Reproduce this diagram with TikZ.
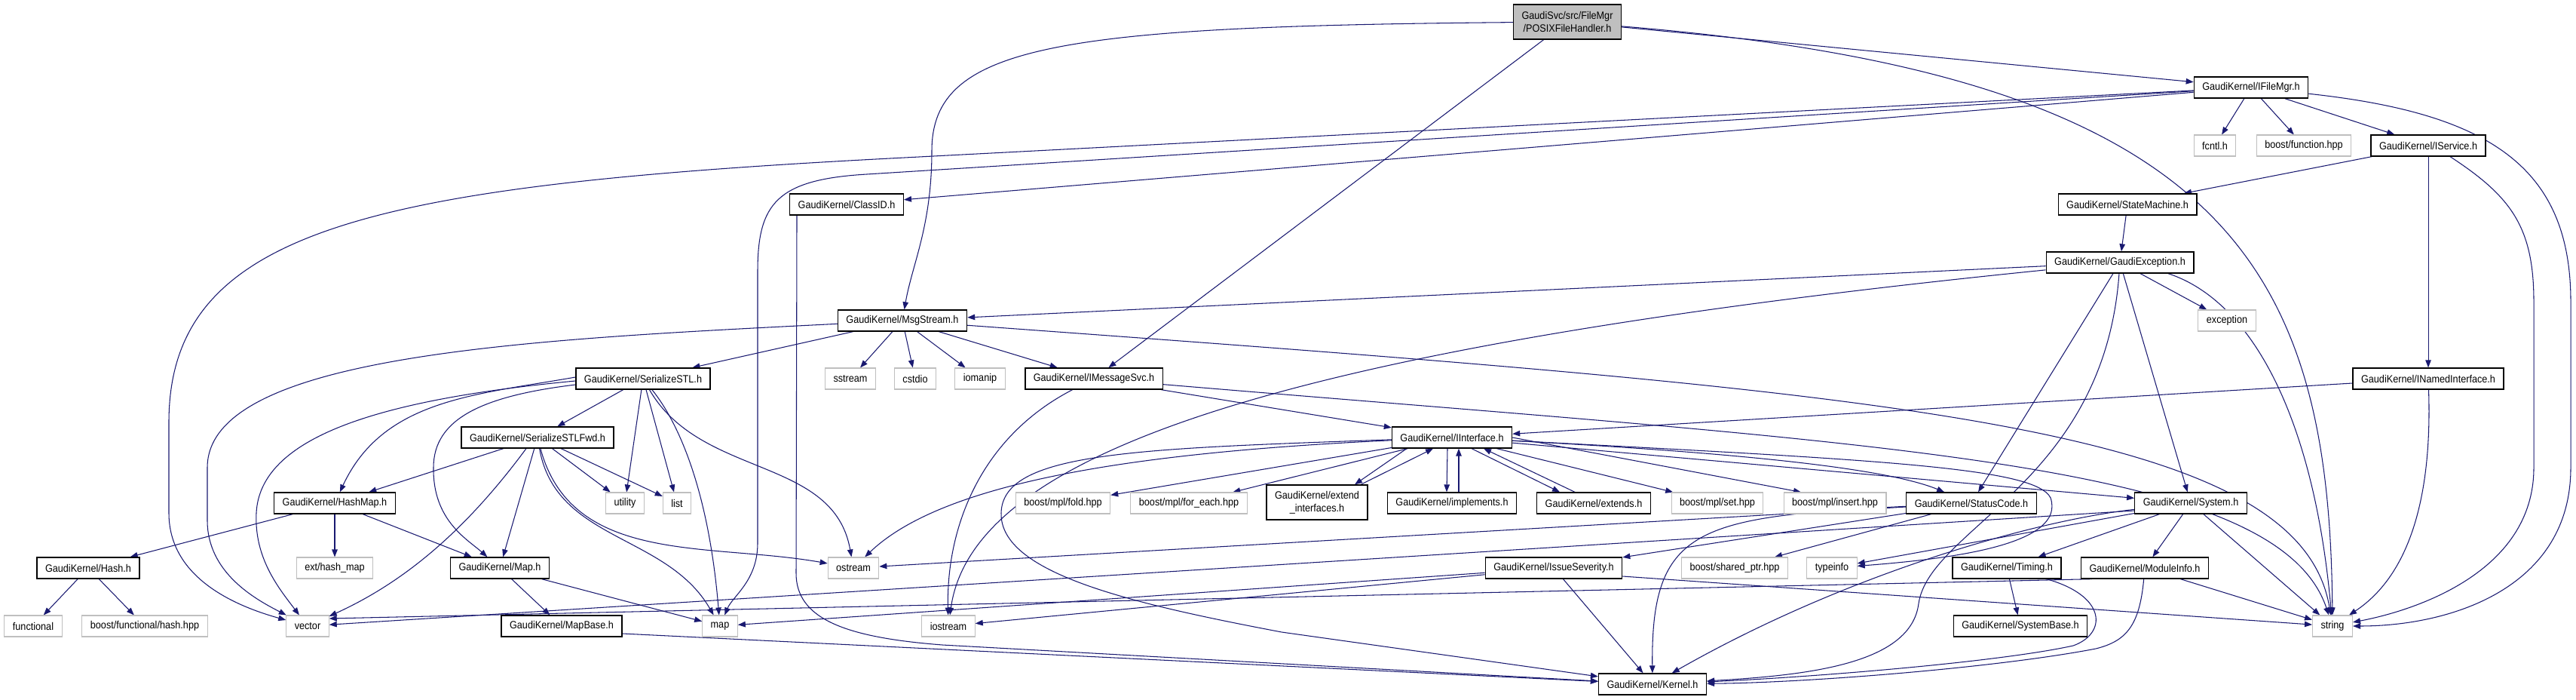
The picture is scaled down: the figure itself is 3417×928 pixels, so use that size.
\documentclass[tikz,border=0pt]{standalone}
\usepackage{fontspec}
\setmainfont{Liberation Sans}[FakeStretch=0.9]
\usepackage{tikz}
\usetikzlibrary{arrows.meta, backgrounds}
\definecolor{edgeblue}{RGB}{25,25,112}
\definecolor{sysgray}{RGB}{191,191,191}

\begin{document}
\begin{tikzpicture}[
        x=0.02cm, y=0.02cm,
        header/.style={rectangle, draw=black, line width=0.75pt, fill=white, minimum height=0.56cm, inner xsep=0.22cm, inner ysep=0pt, align=center, font=\fontsize{8}{9.6}\selectfont},
        sysheader/.style={header, draw=sysgray, line width=0.6pt},
        rootfile/.style={header, fill=sysgray, minimum height=0.92cm},
        dep/.style={-{Triangle[length=0.2cm, width=0.15cm]}, draw=edgeblue, line width=0.6pt}
    ]
        \useasboundingbox (0,0) rectangle (3417,-928);

        % Root file
        \node[rootfile] (root) at (2079,-29) {GaudiSvc/src/FileMgr\\/POSIXFileHandler.h};

        % Upper rows
        \node[header] (ifilemgr) at (2986,-116) {GaudiKernel/IFileMgr.h};
        \node[sysheader] (fcntl) at (2938,-193) {fcntl.h};
        \node[sysheader] (bfunction) at (3056,-193) {boost/function.hpp};
        \node[header] (iservice) at (3221,-193) {GaudiKernel/IService.h};
        \node[header] (classid) at (1123,-271) {GaudiKernel/ClassID.h};
        \node[header] (statemachine) at (2822,-271) {GaudiKernel/StateMachine.h};
        \node[header] (gaudiexc) at (2812,-348) {GaudiKernel/GaudiException.h};
        \node[header] (msgstream) at (1197,-425) {GaudiKernel/MsgStream.h};
        \node[sysheader] (exception) at (2954,-425) {exception};

        % Middle rows
        \node[header] (serializestl) at (853,-502) {GaudiKernel/SerializeSTL.h};
        \node[sysheader] (sstream) at (1128,-502) {sstream};
        \node[sysheader] (cstdio) at (1214,-502) {cstdio};
        \node[sysheader] (iomanip) at (1300,-502) {iomanip};
        \node[header] (imessagesvc) at (1451,-502) {GaudiKernel/IMessageSvc.h};
        \node[header] (inamed) at (3221,-502) {GaudiKernel/INamedInterface.h};
        \node[header] (serializefwd) at (713,-580) {GaudiKernel/SerializeSTLFwd.h};
        \node[header] (iinterface) at (1926,-580) {GaudiKernel/IInterface.h};
        \node[header] (hashmap) at (444,-667) {GaudiKernel/HashMap.h};
        \node[sysheader] (utility) at (829,-667) {utility};
        \node[sysheader] (list) at (898,-667) {list};
        \node[sysheader] (bfold) at (1410,-667) {boost/mpl/fold.hpp};
        \node[sysheader] (bforeach) at (1577,-667) {boost/mpl/for\_each.hpp};
        \node[header, minimum height=0.92cm] (extendif) at (1747,-666) {GaudiKernel/extend\\\_interfaces.h};
        \node[header] (implements) at (1926,-667) {GaudiKernel/implements.h};
        \node[header] (extends) at (2114,-667) {GaudiKernel/extends.h};
        \node[sysheader] (bset) at (2278,-667) {boost/mpl/set.hpp};
        \node[sysheader] (binsert) at (2434,-667) {boost/mpl/insert.hpp};
        \node[header] (statuscode) at (2615,-667) {GaudiKernel/StatusCode.h};
        \node[header] (system) at (2906,-667) {GaudiKernel/System.h};

        % Lower rows
        \node[header] (hash) at (117,-753) {GaudiKernel/Hash.h};
        \node[sysheader] (exthashmap) at (444,-753) {ext/hash\_map};
        \node[header] (gkmap) at (663,-753) {GaudiKernel/Map.h};
        \node[sysheader] (ostream) at (1132,-753) {ostream};
        \node[header] (issue) at (2061,-753) {GaudiKernel/IssueSeverity.h};
        \node[sysheader] (sharedptr) at (2301,-753) {boost/shared\_ptr.hpp};
        \node[sysheader] (typeinfo) at (2430,-753) {typeinfo};
        \node[header] (timing) at (2662,-753) {GaudiKernel/Timing.h};
        \node[header] (moduleinfo) at (2845,-753) {GaudiKernel/ModuleInfo.h};
        \node[sysheader] (functional) at (44,-830) {functional};
        \node[sysheader] (bhash) at (192,-830) {boost/functional/hash.hpp};
        \node[sysheader] (vector) at (408,-830) {vector};
        \node[header] (mapbase) at (745,-830) {GaudiKernel/MapBase.h};
        \node[sysheader] (stdmap) at (955,-830) {map};
        \node[sysheader] (iostream) at (1258,-830) {iostream};
        \node[header] (systembase) at (2680,-830) {GaudiKernel/SystemBase.h};
        \node[sysheader] (string) at (3094,-830) {string};
        \node[header] (kernel) at (2192,-907) {GaudiKernel/Kernel.h};

        % Arrows
        \begin{scope}[on background layer]
        % root file
        \draw[dep] (root) .. controls (1400,-35) and (1236,-60) .. (1236,-200) .. controls (1236,-300) and (1210,-350) .. (msgstream);
        \draw[dep] (root) -- (imessagesvc);
        \draw[dep] (root) -- (ifilemgr);
        \draw[dep] (root) .. controls (2950,-100) and (3090,-350) .. (string);

        % IFileMgr
        \draw[dep] (ifilemgr) -- (fcntl);
        \draw[dep] (ifilemgr) -- (bfunction);
        \draw[dep] (ifilemgr) -- (iservice);
        \draw[dep] (ifilemgr) -- (classid);
        \draw[dep] (ifilemgr) .. controls (3300,-150) and (3410,-220) .. (3410,-400) -- (3410,-620) .. controls (3410,-780) and (3250,-830) .. (string);
        \draw[dep] (ifilemgr) -- (1150,-231) .. controls (1030,-238) and (1005,-270) .. (1005,-360) -- (1005,-720) .. controls (1005,-770) and (972,-790) .. (stdmap);
        \draw[dep] (ifilemgr) -- (1200,-209) .. controls (500,-245) and (224,-300) .. (224,-560) -- (224,-680) .. controls (224,-760) and (300,-800) .. (vector);
        \draw[dep] ([xshift=0.2cm]classid.south west) -- (1056,-760) .. controls (1056,-820) and (1120,-845) .. (1250,-855) -- (kernel);

        % IService, StateMachine, GaudiException
        \draw[dep] (iservice) -- (statemachine);
        \draw[dep] (iservice) -- (inamed);
        \draw[dep] ([xshift=0.58cm]iservice.south) .. controls (3330,-260) and (3361,-300) .. (3361,-400) -- (3361,-620) .. controls (3361,-760) and (3200,-810) .. (string);
        \draw[dep] (statemachine) -- (gaudiexc);
        \draw[dep] (gaudiexc) -- (msgstream);
        \draw[dep] (gaudiexc) .. controls (1700,-460) and (1290,-600) .. (iostream);
        \draw[dep] (gaudiexc) -- (exception);
        \draw[dep] ([xshift=1.28cm]gaudiexc.south) .. controls (2990,-400) and (3070,-560) .. (string);
        \draw[dep] (gaudiexc) -- (statuscode);
        \draw[dep] (gaudiexc) -- (system);
        \draw[dep] (gaudiexc) .. controls (2791,-640) and (2560,-700) .. (2545,-800) .. controls (2535,-880) and (2400,-895) .. (kernel);
        \draw[dep] (inamed) -- (iinterface);
        \draw[dep] (inamed) .. controls (3226,-650) and (3200,-760) .. (string);

        % MsgStream, IMessageSvc
        \draw[dep] (msgstream) -- (sstream);
        \draw[dep] (msgstream) -- (cstdio);
        \draw[dep] (msgstream) -- (iomanip);
        \draw[dep] (msgstream) -- (imessagesvc);
        \draw[dep] (msgstream) -- (serializestl);
        \draw[dep] (msgstream) .. controls (700,-450) and (275,-470) .. (275,-620) -- (275,-690) .. controls (275,-760) and (340,-795) .. (vector);
        \draw[dep] (msgstream) .. controls (2500,-520) and (3050,-560) .. (string);
        \draw[dep] (imessagesvc) -- (iinterface);
        \draw[dep] (imessagesvc) .. controls (1300,-580) and (1255,-700) .. (iostream);
        \draw[dep] (imessagesvc) .. controls (2500,-590) and (3020,-610) .. (string);

        % SerializeSTL, SerializeSTLFwd
        \draw[dep] (serializestl) -- (serializefwd);
        \draw[dep] ([yshift=0.04cm]serializestl.west) to[out=190, in=65] (hashmap);
        \draw[dep] ([yshift=-0.06cm]serializestl.west) .. controls (500,-530) and (345,-580) .. (340,-680) .. controls (337,-740) and (370,-780) .. (vector);
        \draw[dep] ([yshift=-0.16cm]serializestl.west) .. controls (640,-525) and (575,-555) .. (575,-620) .. controls (574,-690) and (620,-715) .. (gkmap);
        \draw[dep] (serializestl) -- (utility);
        \draw[dep] (serializestl) -- (list);
        \draw[dep] (serializestl) .. controls (900,-560) and (940,-650) .. (stdmap);
        \draw[dep] (serializestl) to[out=-60, in=100] (ostream);
        \draw[dep] (serializefwd) -- (hashmap);
        \draw[dep] (serializefwd) -- (gkmap);
        \draw[dep] ([xshift=-0.3cm]serializefwd.south) .. controls (620,-700) and (540,-770) .. (vector);
        \draw[dep] (serializefwd) -- (utility);
        \draw[dep] (serializefwd) -- (list);
        \draw[dep] (serializefwd) to[out=-80, in=120] (stdmap);
        \draw[dep] (serializefwd) to[out=-75, in=170] (ostream);

        % HashMap, Hash, Map
        \draw[dep] (hashmap) -- (hash);
        \draw[dep] (hashmap) -- (exthashmap);
        \draw[dep] (hashmap) -- (gkmap);
        \draw[dep] (hash) -- (functional);
        \draw[dep] (hash) -- (bhash);
        \draw[dep] (gkmap) -- (mapbase);
        \draw[dep] (gkmap) -- (stdmap);
        \draw[dep] ([yshift=-0.2cm]mapbase.east) -- (kernel);

        % IInterface
        \draw[dep] ([xshift=-1.2cm]iinterface.south) -- ([xshift=1cm]extendif.north);
        \draw[dep] ([xshift=1.16cm]extendif.north) -- ([xshift=-0.5cm]iinterface.south);
        \draw[dep] ([xshift=-0.12cm]iinterface.south) -- ([xshift=-0.14cm]implements.north);
        \draw[dep] ([xshift=0.18cm]implements.north) -- ([xshift=0.18cm]iinterface.south);
        \draw[dep] ([xshift=0.52cm]iinterface.south) -- ([xshift=-0.9cm]extends.north);
        \draw[dep] ([xshift=-0.5cm]extends.north) -- ([xshift=0.84cm]iinterface.south);
        \draw[dep] (iinterface) -- (bset);
        \draw[dep] (iinterface.east) -- ([xshift=-0.9cm]binsert.north);
        \draw[dep] (iinterface) .. controls (2300,-600) and (2500,-620) .. (statuscode);
        \draw[dep] (iinterface) -- (system);
        \draw[dep] (iinterface) .. controls (2500,-610) and (2700,-620) .. (2720,-660) .. controls (2740,-720) and (2600,-740) .. (typeinfo);
        \draw[dep] (iinterface) .. controls (1500,-600) and (1250,-640) .. (ostream);
        \draw[dep] (iinterface) -- (bfold);
        \draw[dep] (iinterface) -- (bforeach);
        \draw[dep] (iinterface) .. controls (1500,-595) and (1330,-600) .. (1328,-680) .. controls (1326,-760) and (1500,-800) .. (1700,-838) -- (kernel);

        % StatusCode, IssueSeverity
        \draw[dep] (statuscode) -- (issue);
        \draw[dep] (statuscode) -- (sharedptr);
        \draw[dep] (statuscode) -- (ostream);
        \draw[dep] (statuscode) .. controls (2250,-685) and (2190,-700) .. (kernel);
        \draw[dep] (issue) -- (stdmap);
        \draw[dep] (issue) -- (iostream);
        \draw[dep] (issue) -- (kernel);
        \draw[dep] ([yshift=-0.22cm]issue.east) -- (string);

        % System, Timing, ModuleInfo
        \draw[dep] (system) -- (timing);
        \draw[dep] (system) -- (moduleinfo);
        \draw[dep] (system) -- (string);
        \draw[dep] (system) -- (typeinfo);
        \draw[dep] (system) .. controls (2700,-690) and (2450,-760) .. (kernel);
        \draw[dep] ([yshift=-0.2cm]system.west) -- (vector);
        \draw[dep] (timing) -- (systembase);
        \draw[dep] (timing) .. controls (2795,-790) and (2795,-840) .. (2750,-856) .. controls (2650,-878) and (2400,-898) .. (kernel);
        \draw[dep] (moduleinfo) -- (string);
        \draw[dep] ([xshift=0.3cm]moduleinfo.south west) -- ([yshift=0.2cm]vector.east);
        \draw[dep] (moduleinfo) .. controls (2838,-830) and (2820,-850) .. (2780,-860) .. controls (2650,-885) and (2400,-905) .. (kernel);
        \end{scope}
    \end{tikzpicture}
\end{document}
